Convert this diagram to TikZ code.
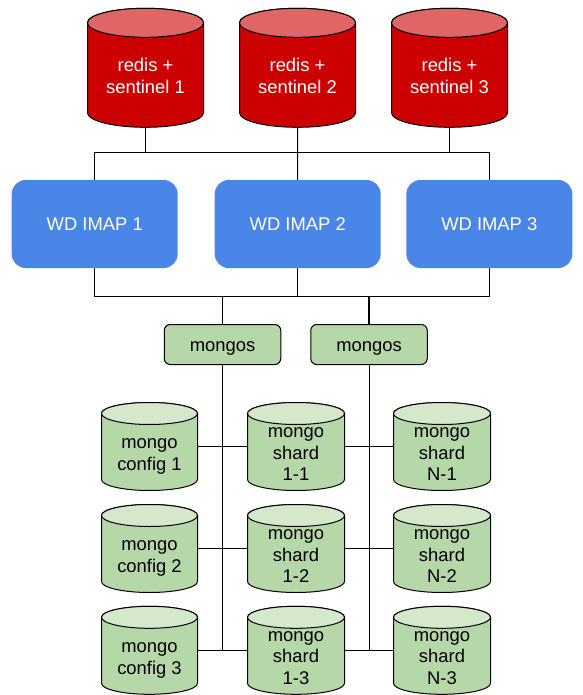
\documentclass[tikz,border=0pt]{standalone}
\usepackage{fontspec}
\setmainfont{Liberation Sans}
\definecolor{redbody}{HTML}{CC0000}
\definecolor{redtop}{HTML}{E06666}
\definecolor{wdblue}{HTML}{4A86E8}
\definecolor{greenbody}{HTML}{B6D7A8}
\definecolor{greentop}{HTML}{D5E8CC}
\tikzset{
  x=1pt,y=-1pt,
  conn/.style={draw=black,line width=1pt},
  conntwo/.style={draw=black,line width=1.7pt},
  bodybox/.style={rectangle,inner sep=0pt,outer sep=0pt},
  label text/.style={font=\fontsize{18.4}{21.4}\selectfont,align=center,inner sep=0pt},
  wdbox/.style={rectangle,rounded corners=14pt,fill=wdblue,inner sep=0pt,outer sep=0pt,minimum width=166pt,minimum height=88pt,text=white,font=\fontsize{18.4}{21.4}\selectfont},
  mongosbox/.style={rectangle,rounded corners=6pt,draw=black,line width=1pt,fill=greenbody,inner sep=0pt,outer sep=0pt,minimum width=116.5pt,minimum height=40pt,text height=17pt,text depth=3.6pt,font=\fontsize{18.4}{21.4}\selectfont},
}
% name, cx, cy, w, h, ry, body colour, top colour
\newcommand{\cylnode}[8]{%
  \pgfmathsetmacro{\hw}{#4/2}%
  \pgfmathsetmacro{\hh}{#5/2}%
  \pgfmathsetmacro{\kx}{\hw*0.5523}%
  \pgfmathsetmacro{\ky}{#6*0.5523}%
  \pgfmathsetmacro{\sd}{\hh-#6}%
  \begin{scope}[shift={(#2,#3)}]
    \draw[line width=1pt,fill=#7,line join=round] (-\hw,-\sd) -- (-\hw,\sd)
      .. controls (-\hw,\sd+\ky) and (-\kx,\hh) .. (0,\hh)
      .. controls (\kx,\hh) and (\hw,\sd+\ky) .. (\hw,\sd) -- (\hw,-\sd)
      .. controls (\hw,-\sd-\ky) and (\kx,-\hh) .. (0,-\hh)
      .. controls (-\kx,-\hh) and (-\hw,-\sd-\ky) .. (-\hw,-\sd) -- cycle;
    \draw[line width=1pt,fill=#8] (-\hw,-\sd)
      .. controls (-\hw,-\sd-\ky) and (-\kx,-\hh) .. (0,-\hh)
      .. controls (\kx,-\hh) and (\hw,-\sd-\ky) .. (\hw,-\sd)
      .. controls (\hw,-\sd+\ky) and (\kx,-\sd+#6) .. (0,-\sd+#6)
      .. controls (-\kx,-\sd+#6) and (-\hw,-\sd+\ky) .. (-\hw,-\sd) -- cycle;
  \end{scope}
  \node[bodybox,minimum width=#4pt,minimum height=#5pt] (#1) at (#2,#3) {};
  \node[label text,text=\cyltextcol] (#1t) at (#2,#3+\cyldy) {\cyllabel};%
}
\newcommand{\setlab}[3]{\def\cyltextcol{#1}\def\cyldy{#2}\def\cyllabel{#3}}
\begin{document}
\begin{tikzpicture}
\useasboundingbox (0,0) rectangle (582,695);
\fill[white] (0,0) rectangle (582,695);
\coordinate (busA) at (0,153);
\coordinate (busB) at (0,296);

\setlab{white}{8.2}{redis +\\sentinel 1}
\cylnode{r1}{145.5}{67.8}{116}{119}{14.5}{redbody}{redtop}
\setlab{white}{8.2}{redis +\\sentinel 2}
\cylnode{r2}{297.5}{67.8}{116}{119}{14.5}{redbody}{redtop}
\setlab{white}{8.2}{redis +\\sentinel 3}
\cylnode{r3}{449.5}{67.8}{116}{119}{14.5}{redbody}{redtop}

\node[wdbox] (w1) at (94.7,224) {WD IMAP 1};
\node[wdbox] (w2) at (297.7,224) {WD IMAP 2};
\node[wdbox] (w3) at (489.3,224) {WD IMAP 3};

\node[mongosbox] (m1) at (222.5,344.5) {mongos};
\node[mongosbox] (m2) at (369,344.5) {mongos};

\setlab{black}{10}{mongo\\config 1}
\cylnode{c1}{149.5}{446.5}{96}{88}{11}{greenbody}{greentop}
\setlab{black}{10}{mongo\\config 2}
\cylnode{c2}{149.5}{548.5}{96}{88}{11}{greenbody}{greentop}
\setlab{black}{10}{mongo\\config 3}
\cylnode{c3}{149.5}{650.3}{96}{88}{11}{greenbody}{greentop}

\setlab{black}{7.6}{mongo\\shard\\1-1}
\cylnode{s1}{296}{446.5}{97}{88}{11}{greenbody}{greentop}
\setlab{black}{7.6}{mongo\\shard\\1-2}
\cylnode{s2}{296}{548.5}{97}{88}{11}{greenbody}{greentop}
\setlab{black}{7.6}{mongo\\shard\\1-3}
\cylnode{s3}{296}{650.3}{97}{88}{11}{greenbody}{greentop}

\setlab{black}{7.6}{mongo\\shard\\N-1}
\cylnode{n1}{442}{446.5}{97}{88}{11}{greenbody}{greentop}
\setlab{black}{7.6}{mongo\\shard\\N-2}
\cylnode{n2}{442}{548.5}{97}{88}{11}{greenbody}{greentop}
\setlab{black}{7.6}{mongo\\shard\\N-3}
\cylnode{n3}{442}{650.3}{97}{88}{11}{greenbody}{greentop}

\draw[conn] (w1.north) -- (w1.north |- busA) -- (w3.north |- busA) -- (w3.north);
\draw[conn] (r1.south) -- (r1.south |- busA);
\draw[conn] (r2.south) -- (w2.north);
\draw[conn] (r3.south) -- (r3.south |- busA);

\draw[conn] (w1.south) -- (w1.south |- busB) -- (w3.south |- busB) -- (w3.south);
\draw[conn] (w2.south) -- (w2.south |- busB);
\draw[conn] (m1.north |- busB) -- (m1.north);
\draw[conntwo] (m2.north |- busB) -- (m2.north);

\draw[conn] (m1.south) -- (m1.south |- c3.east);
\draw[conn] (m2.south) -- (m2.south |- s3.east);
\draw[conn] (c1.east) -- (s1.west);
\draw[conn] (c2.east) -- (s2.west);
\draw[conn] (c3.east) -- (s3.west);
\draw[conn] (s1.east) -- (n1.west);
\draw[conn] (s2.east) -- (n2.west);
\draw[conn] (s3.east) -- (n3.west);
\end{tikzpicture}
\end{document}
